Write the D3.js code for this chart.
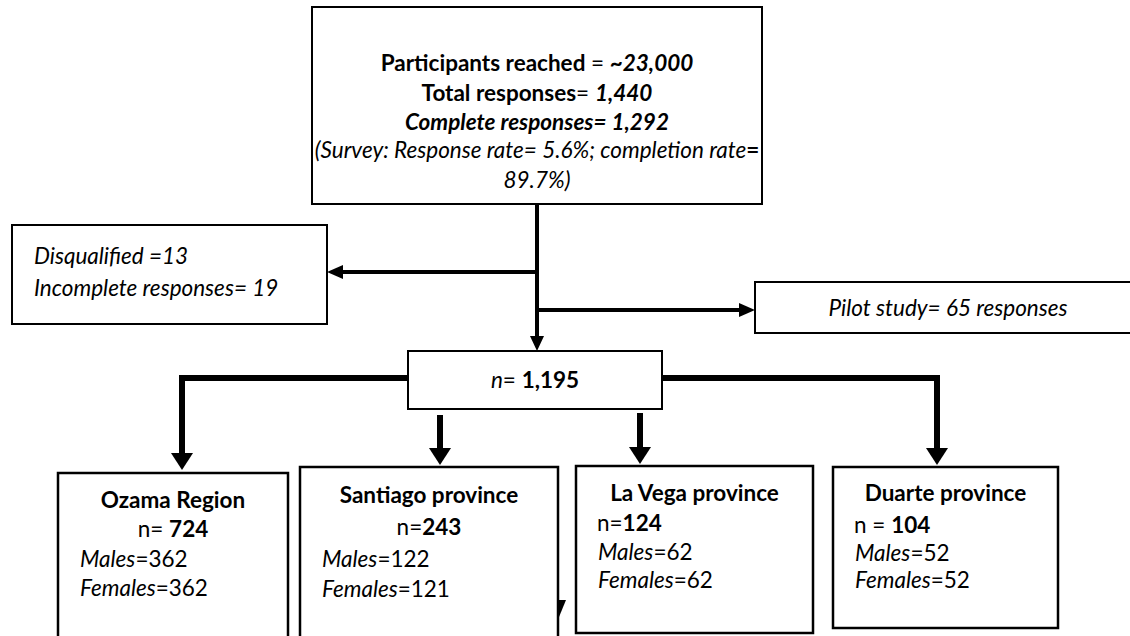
<!DOCTYPE html>
<html>
<head>
<meta charset="utf-8">
<script src="https://cdn.jsdelivr.net/npm/d3@7"></script>
<style>
body { margin: 0; background: #fff; }
svg text { font-family: Lato, "Open Sans", sans-serif; fill: #000; white-space: pre; }
</style>
</head>
<body>
<svg id="chart" width="1130" height="636"></svg>
<script>
// values
var stageLabels = ["Participants reached", "Total responses", "Complete responses"]
var stageValues = ["~23,000", "1,440", "1,292"]
var rateLabels = ["Response rate", "completion rate"]
var rateValues = ["5.6%", "89.7%"]
var excludedLabels = ["Disqualified", "Incomplete responses"]
var excludedValues = [13, 19]
var pilotLabel = "Pilot study"
var pilotValue = 65
var analysedN = "1,195"
var regions = ["Ozama Region", "Santiago province", "La Vega province", "Duarte province"]
var regionN = [724, 243, 124, 104]
var males = [362, 122, 62, 52]
var females = [362, 121, 62, 52]

// layout (pixels)
var FS = 22.5
var boxLeft = d3.scaleOrdinal().domain(regions).range([58, 300, 576, 833])
var boxRight = d3.scaleOrdinal().domain(regions).range([288, 558, 813, 1058])
var boxTop = d3.scaleOrdinal().domain(regions).range([473, 467, 466, 467])
var boxBottom = d3.scaleOrdinal().domain(regions).range([660, 660, 633, 628])
var arrowX = d3.scaleOrdinal().domain(regions).range([182, 440, 640, 937])
var titleY = d3.scaleOrdinal().domain(regions).range([500, 495, 493, 493])
var nY = d3.scaleOrdinal().domain(regions).range([529, 527, 523, 525])
var malesY = d3.scaleOrdinal().domain(regions).range([559, 559, 552, 553])
var femalesY = d3.scaleOrdinal().domain(regions).range([588, 589, 580, 580])
var nPrefix = ["n= ", "n=", "n=", "n = "]
var nAlign = ["middle", "middle", "start", "start"]

var svg = d3.select("#chart")
var g = svg.append("g")

function box(x0, y0, x1, y1, sw) {
    g.append("rect")
        .attr("x", x0).attr("y", y0)
        .attr("width", x1 - x0).attr("height", y1 - y0)
        .attr("fill", "#fff").attr("stroke", "#000").attr("stroke-width", sw || 2)
}

function rich(x, y, anchor, parts) {
    var t = g.append("text")
        .attr("x", x).attr("y", y).attr("dy", "0.35em")
        .attr("text-anchor", anchor)
        .style("font-size", FS + "px")
    parts.forEach(function (p) {
        t.append("tspan").text(p[0])
            .style("font-weight", p[1] ? "bold" : "normal")
            .style("font-style", p[2] ? "italic" : "normal")
    })
}

// polyline ending in a filled arrowhead at the last point
function arrow(pts, sw, headLen, headW) {
    var n = pts.length, tip = pts[n - 1], prev = pts[n - 2]
    var dx = tip[0] - prev[0], dy = tip[1] - prev[1]
    var len = Math.sqrt(dx * dx + dy * dy), ux = dx / len, uy = dy / len
    var base = [tip[0] - ux * headLen, tip[1] - uy * headLen]
    var line = pts.slice(0, n - 1).concat([base])
    g.append("path")
        .attr("d", d3.line()(line))
        .attr("fill", "none").attr("stroke", "#000").attr("stroke-width", sw)
        .attr("stroke-linejoin", "miter").attr("stroke-linecap", "butt")
    g.append("path")
        .attr("d", d3.line()([tip,
            [base[0] - uy * headW / 2, base[1] + ux * headW / 2],
            [base[0] + uy * headW / 2, base[1] - ux * headW / 2]]) + "Z")
        .attr("fill", "#000")
}

// --- top section
var cx = 537
arrow([[cx, 204], [cx, 351]], 4, 15, 14)
arrow([[cx, 272], [327, 272]], 4, 16, 14)
arrow([[cx, 310], [755, 310]], 4, 16, 14)

box(312, 7, 762, 204)
rich(cx, 63, "middle", [[stageLabels[0] + " ", true, false], ["= ", false, false], [stageValues[0], true, true]])
rich(cx, 93, "middle", [[stageLabels[1], true, false], ["= ", false, false], [stageValues[1], true, true]])
rich(cx, 122, "middle", [[stageLabels[2] + "= " + stageValues[2], true, true]])
rich(cx, 150, "middle", [["(Survey: " + rateLabels[0] + "= " + rateValues[0] + "; " + rateLabels[1], false, true], ["=", true, false]])
rich(cx, 180, "middle", [[rateValues[1] + ")", false, true]])

box(12, 225, 327, 324)
rich(34, 256, "start", [[excludedLabels[0] + " =" + excludedValues[0], false, true]])
rich(34, 288, "start", [[excludedLabels[1] + "= " + excludedValues[1], false, true]])

box(755, 282, 1140, 333)
rich(948, 308, "middle", [[pilotLabel + "= " + pilotValue + " responses", false, true]])

// --- branches to regions
var nBox = [408, 351, 662, 409]
var branchY = 378
arrow([[nBox[0], branchY], [arrowX(regions[0]), branchY], [arrowX(regions[0]), boxTop(regions[0]) - 3]], 6, 17, 22)
arrow([[nBox[2], branchY], [arrowX(regions[3]), branchY], [arrowX(regions[3]), boxTop(regions[3]) - 2]], 6, 17, 22)
arrow([[arrowX(regions[1]), 415], [arrowX(regions[1]), boxTop(regions[1]) - 2]], 6, 17, 22)
arrow([[arrowX(regions[2]), 413], [arrowX(regions[2]), boxTop(regions[2]) - 2]], 6, 17, 22)

box(nBox[0], nBox[1], nBox[2], nBox[3])
rich((nBox[0] + nBox[2]) / 2, 380, "middle", [["n", false, true], ["= ", false, false], [analysedN, true, false]])

regions.forEach(function (r, i) {
    var x0 = boxLeft(r), x1 = boxRight(r)
    box(x0, boxTop(r), x1, boxBottom(r), 2.5)
    rich((x0 + x1) / 2, titleY(r), "middle", [[r, true, false]])
    var nx = nAlign[i] === "middle" ? (x0 + x1) / 2 : x0 + 21
    rich(nx, nY(r), nAlign[i], [[nPrefix[i], false, false], [String(regionN[i]), true, false]])
    rich(x0 + 22, malesY(r), "start", [["Males", false, true], ["=" + males[i], false, false]])
    rich(x0 + 22, femalesY(r), "start", [["Females", false, true], ["=" + females[i], false, false]])
})

// stray arrowhead fragment beside the Santiago box
g.append("path").attr("d", "M557,600L566,600L559,617Z").attr("fill", "#000")
</script>
</body>
</html>
